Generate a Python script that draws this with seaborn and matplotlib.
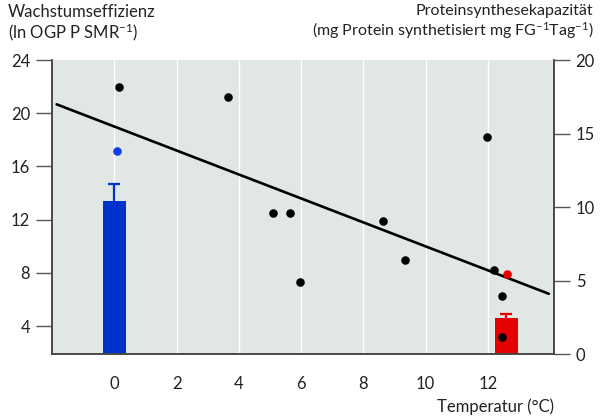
import numpy as np
import matplotlib
matplotlib.use('Agg')
import matplotlib.pyplot as plt
import seaborn as sns

# Daten
temp_punkte = [0.15, 3.64, 5.09, 5.66, 5.97, 8.64, 9.35, 11.96, 12.2, 12.47, 12.47]
effizienz_punkte = [22.0, 21.24, 12.47, 12.47, 7.29, 11.87, 8.98, 18.23, 8.19, 6.26, 3.2]

temp_blau = [0.09]
effizienz_blau = [17.14]
temp_rot = [12.63]
effizienz_rot = [7.93]

trend_x = [-1.85, 13.96]
trend_y = [20.67, 6.43]

balken_temp = [0.0, 12.6]
balken_protein = [10.43, 2.47]
balken_fehler = [1.13, 0.29]
balken_farben = ['#0033CC', '#E60000']

x_ticks = [0, 2, 4, 6, 8, 10, 12]
links_ticks = [4, 8, 12, 16, 20, 24]
rechts_ticks = [0, 5, 10, 15, 20]

sns.set_style('white')
plt.rcParams['font.family'] = ['Lato', 'DejaVu Sans']
plt.rcParams['mathtext.fontset'] = 'custom'
plt.rcParams['mathtext.rm'] = 'Lato'
plt.rcParams['mathtext.default'] = 'regular'

fig = plt.figure(figsize=(6.01, 4.17), dpi=100)
ax = fig.add_axes([0.086, 0.150, 0.836, 0.706])
ax.set_facecolor('#E0E7E5')

# Balken (Proteinsynthesekapazität, rechte Achse)
ax.bar(balken_temp, balken_protein, width=0.73, color=balken_farben,
       edgecolor='none', linewidth=0, zorder=2)
for xb, yb, eb, cb in zip(balken_temp, balken_protein, balken_fehler, balken_farben):
    eb_obj = ax.errorbar([xb], [yb], yerr=[[0], [eb]], fmt='none', ecolor=cb,
                         elinewidth=1.6, capsize=4.5, capthick=1.6, zorder=2)
    # nur die obere Kappe zeigen
    eb_obj[1][0].set_visible(False)

ax.set_xlim(-2.01, 14.13)
ax.set_ylim(0, 20)
ax.set_xticks(x_ticks)
ax.set_yticks(rechts_ticks)
ax.grid(axis='x', color='white', linewidth=1.0, zorder=1)
ax.grid(axis='y', visible=False)
ax.set_axisbelow(True)

# Wachstumseffizienz (linke Achse)
ax2 = ax.twinx()
ax2.set_ylim(1.87, 24)
ax2.set_yticks(links_ticks)
ax.yaxis.tick_right()
ax2.yaxis.tick_left()
ax2.grid(False)

sns.lineplot(x=trend_x, y=trend_y, ax=ax2, color='black', linewidth=1.9, zorder=3)
sns.scatterplot(x=temp_punkte, y=effizienz_punkte, ax=ax2, color='black',
                s=38, linewidth=0, zorder=4)
sns.scatterplot(x=temp_blau, y=effizienz_blau, ax=ax2, color='#1040E0',
                s=38, linewidth=0, zorder=4)
sns.scatterplot(x=temp_rot, y=effizienz_rot, ax=ax2, color='#E60000',
                s=38, linewidth=0, zorder=4)

for a in (ax, ax2):
    a.spines['top'].set_visible(False)
    for s in ('left', 'right', 'bottom'):
        a.spines[s].set_color('#444444')
        a.spines[s].set_linewidth(1.1)
    a.tick_params(axis='both', length=11.5, width=1.0, color='#555555',
                  labelsize=12, labelcolor='#222222', pad=4)
    a.set_ylabel('')

ax.set_xlabel('Temperatur (°C)', loc='right', fontsize=12, color='#222222', labelpad=5)

fig.text(0.013, 0.99, 'Wachstumseffizienz\n(ln OGP P SMR$^{-1}$)',
         ha='left', va='top', fontsize=12, color='#222222', linespacing=1.1)
fig.text(0.987, 0.99,
         'Proteinsynthesekapazität\n(mg Protein synthetisiert mg FG$^{-1}$Tag$^{-1}$)',
         ha='right', va='top', fontsize=11.5, color='#222222', linespacing=1.15,
         multialignment='right')

fig.savefig('out.png', dpi=100)
